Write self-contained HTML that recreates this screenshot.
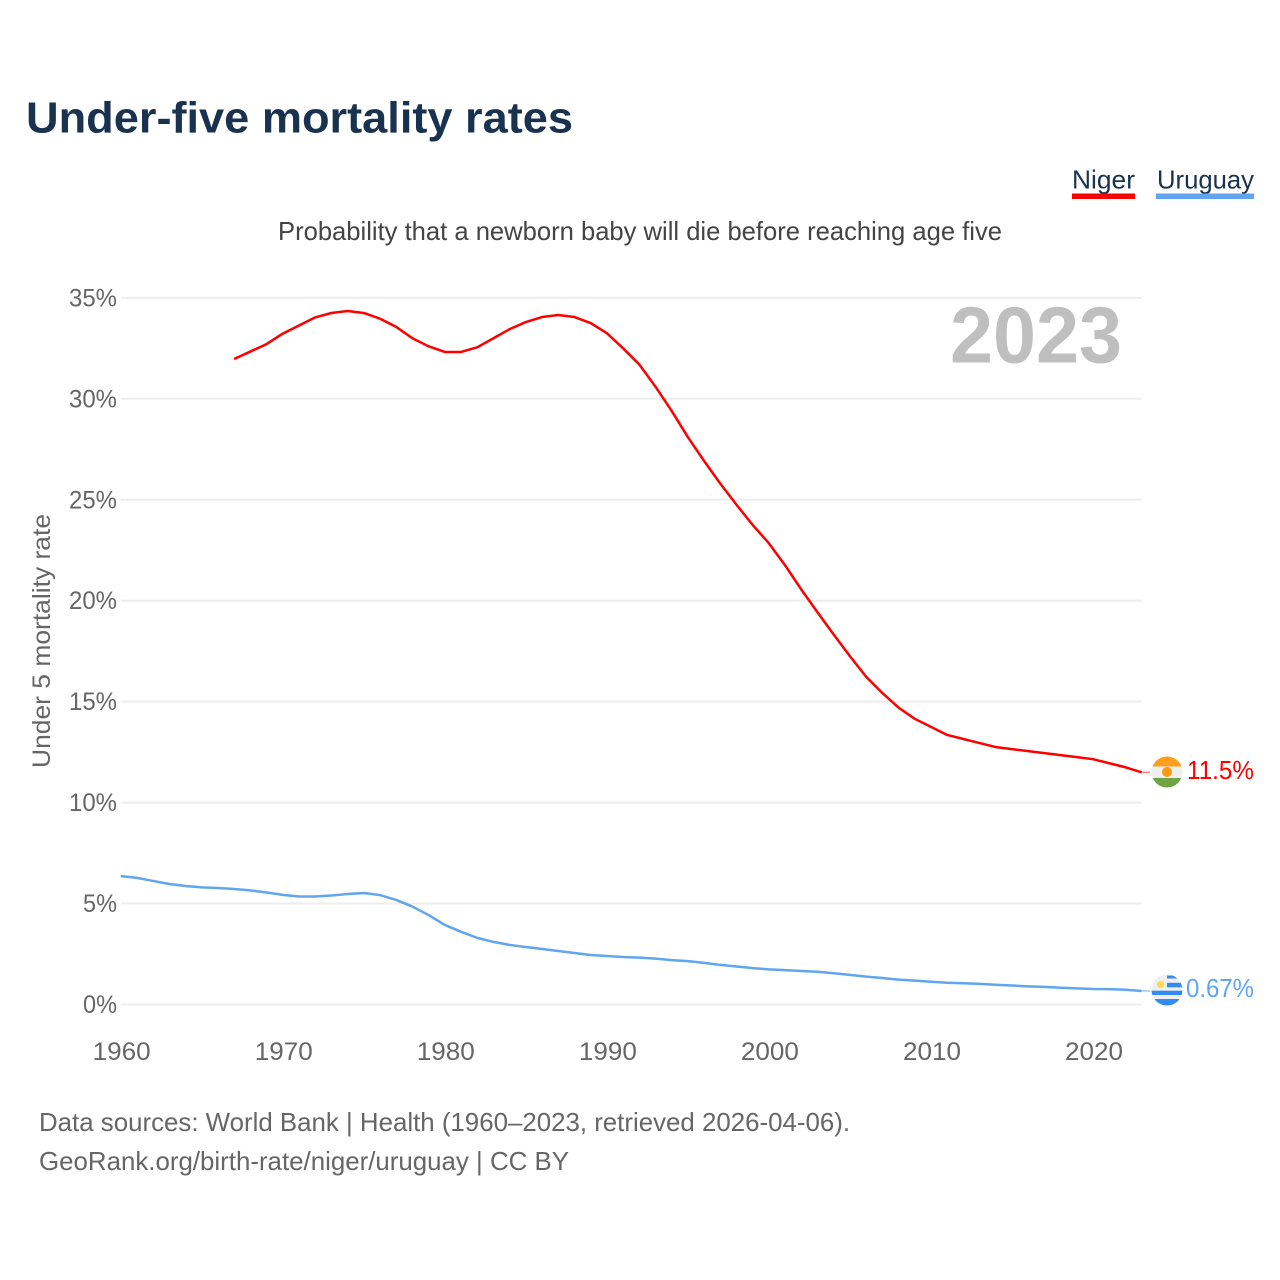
<!DOCTYPE html>
<html lang="en">
<head>
<meta charset="utf-8">
<title>Under-five mortality rates</title>
<style>
html,body{margin:0;padding:0;background:#fff;width:1280px;height:1280px;overflow:hidden}
svg{display:block}
text{font-family:"Liberation Sans",sans-serif}
</style>
</head>
<body>
<svg id="chart" xmlns="http://www.w3.org/2000/svg" width="1280" height="1280" viewBox="0 0 1280 1280">
  <rect width="1280" height="1280" fill="#fff"/>
  <text x="26" y="132.500" font-size="44" font-weight="700" fill="#18324f" textLength="547" lengthAdjust="spacingAndGlyphs">Under-five mortality rates</text>
  <text x="1072" y="188.500" font-size="26" fill="#18324f" textLength="63" lengthAdjust="spacingAndGlyphs">Niger</text>
  <rect x="1072" y="193.500" width="63" height="5.500" fill="#ff0000"/>
  <text x="1157" y="188.500" font-size="26" fill="#18324f" textLength="97" lengthAdjust="spacingAndGlyphs">Uruguay</text>
  <rect x="1156" y="193.500" width="98" height="5.500" fill="#60a5ee"/>
  <text x="278" y="240" font-size="26" fill="#444" textLength="724" lengthAdjust="spacingAndGlyphs">Probability that a newborn baby will die before reaching age five</text>
  <text x="1122" y="362.500" text-anchor="end" font-size="80" font-weight="700" fill="#bfbfbf" textLength="172" lengthAdjust="spacingAndGlyphs">2023</text>
  <text transform="translate(50,641) rotate(-90)" text-anchor="middle" font-size="25" fill="#666" textLength="254" lengthAdjust="spacingAndGlyphs">Under 5 mortality rate</text>
  <g id="grid"></g>
  <g id="yticks"></g>
  <g id="xticks"></g>
  <g id="series"></g>

  <g>
    <clipPath id="clipN"><circle cx="1167" cy="772" r="15.500"/></clipPath>
    <g clip-path="url(#clipN)">
      <rect x="1151" y="756" width="32" height="10.500" fill="#ff9f1c"/>
      <rect x="1151" y="766.500" width="32" height="11.500" fill="#efefef"/>
      <rect x="1151" y="778" width="32" height="10" fill="#6da544"/>
      <circle cx="1167" cy="772" r="5" fill="#ff9811"/>
    </g>
  </g>
  <text x="1187" y="779" font-size="26" fill="#ff0000" textLength="67" lengthAdjust="spacingAndGlyphs">11.5%</text>

  <g>
    <clipPath id="clipU"><circle cx="1167" cy="990" r="15.500"/></clipPath>
    <g clip-path="url(#clipU)">
      <rect x="1151" y="974" width="32" height="32" fill="#efefef"/>
      <rect x="1167" y="975.500" width="16" height="3" fill="#338af3"/>
      <rect x="1167" y="982.800" width="16" height="4.500" fill="#338af3"/>
      <rect x="1151" y="990.700" width="32" height="4.300" fill="#338af3"/>
      <rect x="1151" y="999" width="32" height="7" fill="#338af3"/>
      <circle cx="1160.500" cy="984.500" r="3.500" fill="#ffda44"/>
    </g>
  </g>
  <text x="1186" y="997" font-size="26" fill="#60a5ee" textLength="68" lengthAdjust="spacingAndGlyphs">0.67%</text>

  <text x="39" y="1131" font-size="26" fill="#666" textLength="811" lengthAdjust="spacingAndGlyphs">Data sources: World Bank | Health (1960–2023, retrieved 2026-04-06).</text>
  <text x="39" y="1170" font-size="26" fill="#666" textLength="530" lengthAdjust="spacingAndGlyphs">GeoRank.org/birth-rate/niger/uruguay | CC BY</text>
</svg>
<script>
const yTickValues = [0, 5, 10, 15, 20, 25, 30, 35];
const yTickLabels = ["0%", "5%", "10%", "15%", "20%", "25%", "30%", "35%"];
const xTickValues = [1960, 1970, 1980, 1990, 2000, 2010, 2020];
const xTickLabels = ["1960", "1970", "1980", "1990", "2000", "2010", "2020"];
const nigerStartYear = 1967;
const nigerValues = [31.97, 32.34, 32.71, 33.23, 33.63, 34.03, 34.25, 34.35, 34.25, 33.97, 33.56, 33.0, 32.6, 32.32, 32.32, 32.55, 33.0, 33.45, 33.8, 34.05, 34.15, 34.05, 33.75, 33.25, 32.5, 31.7, 30.6, 29.4, 28.1, 26.92, 25.8, 24.75, 23.75, 22.84, 21.75, 20.55, 19.42, 18.32, 17.25, 16.23, 15.43, 14.7, 14.15, 13.75, 13.35, 13.15, 12.95, 12.75, 12.65, 12.55, 12.45, 12.35, 12.25, 12.15, 11.95, 11.75, 11.5];
const uruguayStartYear = 1960;
const uruguayValues = [6.36, 6.27, 6.12, 5.97, 5.87, 5.8, 5.77, 5.72, 5.65, 5.55, 5.43, 5.35, 5.35, 5.4, 5.47, 5.52, 5.42, 5.18, 4.85, 4.43, 3.94, 3.6, 3.3, 3.1, 2.95, 2.85, 2.75, 2.65, 2.55, 2.45, 2.4, 2.35, 2.32, 2.27, 2.2, 2.15, 2.06, 1.96, 1.88, 1.8, 1.74, 1.7, 1.66, 1.62, 1.55, 1.47, 1.38, 1.31, 1.23, 1.18, 1.13, 1.08, 1.05, 1.02, 0.98, 0.94, 0.9, 0.87, 0.83, 0.8, 0.77, 0.76, 0.73, 0.67];

const NS = "http://www.w3.org/2000/svg";
function xScale(year) { return 120.7 + (year - 1960) * 16.206; }
function yScale(v) { return 1004.5 - v * 20.19; }
function make(tag, attrs, parent) {
  const el = document.createElementNS(NS, tag);
  for (const k in attrs) el.setAttribute(k, attrs[k]);
  parent.appendChild(el);
  return el;
}
const plotRight = xScale(2023);
const gridG = document.getElementById("grid");
const yG = document.getElementById("yticks");
const xG = document.getElementById("xticks");
const seriesG = document.getElementById("series");

yTickValues.forEach(function (v, i) {
  const line = make("line", {x1: xScale(1960), x2: plotRight, y1: yScale(v), y2: yScale(v), stroke: "#eeeeee", "stroke-width": 2}, gridG);
  
  
  const t = make("text", {x: 117, y: yScale(v) + 8.5, "text-anchor": "end", "font-size": 25, fill: "#666", textLength: yTickLabels[i].length === 3 ? 48 : 34, lengthAdjust: "spacingAndGlyphs"}, yG);
  
  
  t.textContent = yTickLabels[i];
});
xTickValues.forEach(function (v, i) {
  const t = make("text", {x: xScale(v) + 1, y: 1060, "text-anchor": "middle", "font-size": 25, fill: "#666", textLength: 58, lengthAdjust: "spacingAndGlyphs"}, xG);
  
  
  t.textContent = xTickLabels[i];
});
function pathFor(startYear, values) {
  return values.map(function (v, i) {
    return (i ? "L" : "M") + xScale(startYear + i).toFixed(2) + " " + yScale(v).toFixed(2);
  }).join(" ");
}
const nigerLine = make("path", {d: pathFor(nigerStartYear, nigerValues), fill: "none", stroke: "#ff0000", "stroke-width": 2.5, "stroke-linejoin": "round"}, seriesG);


const uruguayLine = make("path", {d: pathFor(uruguayStartYear, uruguayValues), fill: "none", stroke: "#60a5ee", "stroke-width": 2.5, "stroke-linejoin": "round"}, seriesG);


const nigerLast = nigerValues[nigerValues.length - 1];
const uruguayLast = uruguayValues[uruguayValues.length - 1];
const nigerLeader = make("line", {x1: plotRight, x2: 1150, y1: yScale(nigerLast), y2: yScale(nigerLast), stroke: "#ff0000", "stroke-opacity": 0.5, "stroke-width": 1.5}, seriesG);


const uruguayLeader = make("line", {x1: plotRight, x2: 1150, y1: yScale(uruguayLast), y2: yScale(uruguayLast), stroke: "#60a5ee", "stroke-opacity": 0.6, "stroke-width": 1.5}, seriesG);


</script>
</body>
</html>
